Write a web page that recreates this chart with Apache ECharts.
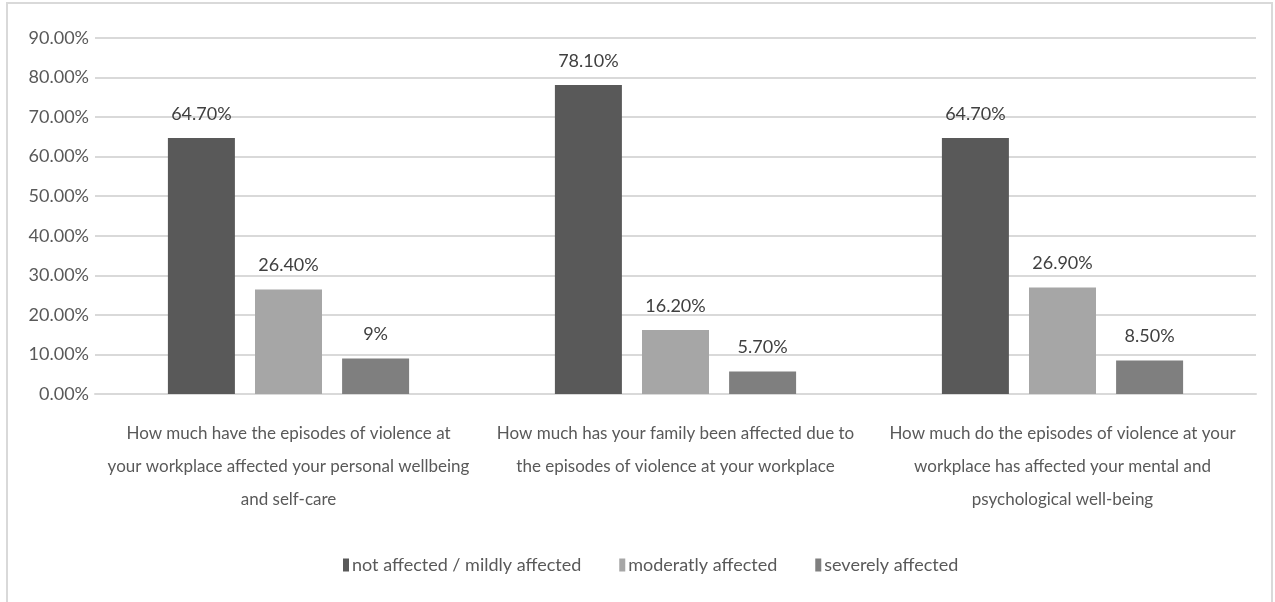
<!DOCTYPE html>
<html>
<head>
<meta charset="utf-8">
<script src="https://cdn.jsdelivr.net/npm/echarts@6/dist/echarts.min.js"></script>
<style>
  html, body { margin: 0; padding: 0; background: #fff; }
  #bar-chart { width: 1275px; height: 602px; }
</style>
</head>
<body>
<div id="bar-chart"></div>
<script>
var questions = [
    'How much have the episodes of violence at\nyour workplace affected your personal wellbeing\nand self-care',
    'How much has your family been affected due to\nthe episodes of violence at your workplace',
    'How much do the episodes of violence at your\nworkplace has affected your mental and\npsychological well-being'
];
var seriesNames = ['not affected / mildly affected', 'moderatly affected', 'severely affected'];
var notAffected = [64.7, 78.1, 64.7];
var moderately = [26.4, 16.2, 26.9];
var severely = [9, 5.7, 8.5];
// labels as printed on the original chart
var notAffectedLabels = ['64.70%', '78.10%', '64.70%'];
var moderatelyLabels = ['26.40%', '16.20%', '26.90%'];
var severelyLabels = ['9%', '5.70%', '8.50%'];
var yTicks = [0, 10, 20, 30, 40, 50, 60, 70, 80, 90];

var font = 'Lato, "Open Sans", sans-serif';
var colors = ['#595959', '#a6a6a6', '#7f7f7f'];

function makeSeries(name, values, labels, color) {
    return {
        name: name,
        type: 'bar',
        data: values,
        barWidth: 67,
        barGap: '30%',
        itemStyle: { color: color },
        label: {
            show: true,
            position: 'top',
            distance: 15,
            color: '#404040',
            fontFamily: font,
            fontSize: 18,
            formatter: function (p) { return labels[p.dataIndex]; }
        }
    };
}

var myChart = echarts.init(document.getElementById('bar-chart'));

var option = {
    animation: false,
    backgroundColor: '#fff',
    textStyle: { fontFamily: font },
    graphic: [{
        type: 'rect',
        shape: { x: 7, y: 3, width: 1265, height: 620 },
        style: { fill: 'none', stroke: '#d9d9d9', lineWidth: 2 },
        silent: true
    }],
    legend: {
        data: seriesNames,
        left: 338,
        top: 551,
        icon: 'rect',
        itemWidth: 6,
        itemHeight: 13,
        itemGap: 38,
        textStyle: { color: '#595959', fontSize: 18, fontFamily: font, padding: [0, 0, 0, -2] }
    },
    grid: {
        left: 95,
        right: 19,
        top: 38,
        bottom: 208,
        containLabel: false
    },
    xAxis: {
        type: 'category',
        data: questions,
        axisTick: { show: false },
        axisLine: { lineStyle: { color: '#d9d9d9', width: 2 } },
        axisLabel: {
            interval: 0,
            margin: 23,
            color: '#595959',
            fontSize: 17,
            lineHeight: 33,
            fontFamily: font,
            align: 'center'
        }
    },
    yAxis: {
        type: 'value',
        min: yTicks[0],
        max: yTicks[yTicks.length - 1],
        interval: 10,
        axisLine: { show: false },
        axisTick: { show: false },
        splitLine: { lineStyle: { color: '#d9d9d9', width: 2 } },
        axisLabel: {
            margin: 6,
            color: '#595959',
            fontSize: 18,
            fontFamily: font,
            formatter: function (v) { return v.toFixed(2) + '%'; }
        }
    },
    series: [
        makeSeries(seriesNames[0], notAffected, notAffectedLabels, colors[0]),
        makeSeries(seriesNames[1], moderately, moderatelyLabels, colors[1]),
        makeSeries(seriesNames[2], severely, severelyLabels, colors[2])
    ]
};

myChart.setOption(option);
</script>
</body>
</html>
